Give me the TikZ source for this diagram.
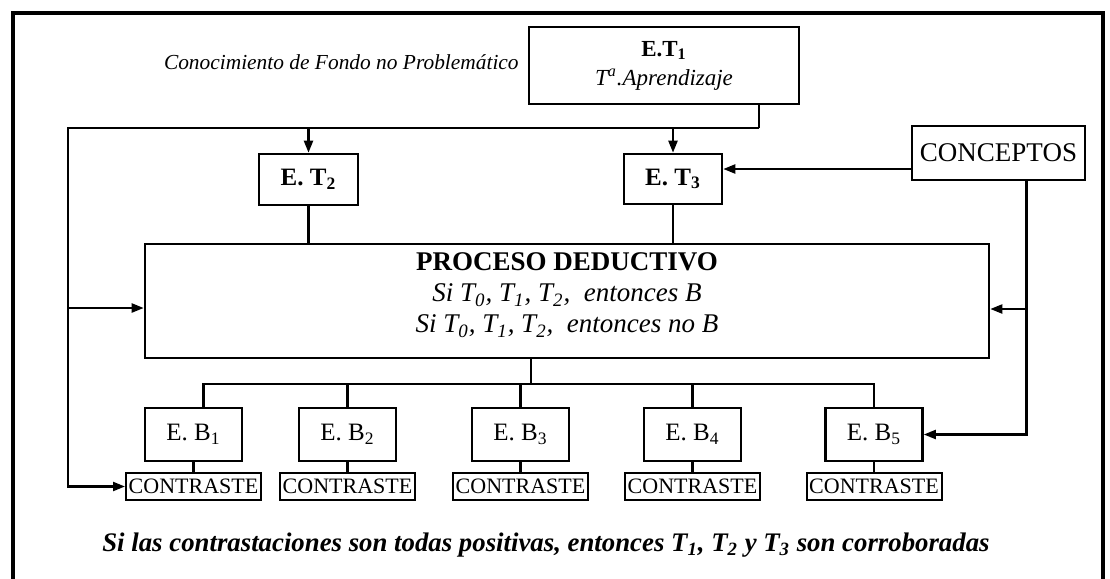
\documentclass[tikz,border=0pt]{standalone}
\usepackage{fontspec}
\setmainfont{Liberation Serif}
\usetikzlibrary{arrows.meta, positioning}

\newcommand{\fsSmall}{\fontsize{10.7}{12.5}\selectfont}
\newcommand{\fsMid}{\fontsize{12.5}{14}\selectfont}
\newcommand{\fsBig}{\fontsize{13.5}{15.5}\selectfont}

\begin{document}
\begin{tikzpicture}[x=0.5pt, y=-0.5pt,
    box/.style={draw, line width=1.3pt, inner sep=0pt, align=center},
    line/.style={line width=1.1pt},
    arr/.style={line, -{Triangle[length=6pt, width=4.5pt]}}]
  \useasboundingbox (0,0) rectangle (1110,579);
  % outer frame (open at the bottom)
  \draw[line width=1.7pt] (13,579) -- (13,13) -- (1103,13) -- (1103,579);

  % top row
  \node[box, minimum width=135pt, minimum height=38.5pt,
    font=\fontsize{11.5}{12.5}\selectfont] (et1) at (664,65.5)
    {\bfseries E.T\textsubscript{1}\\[2pt] \itshape T\textsuperscript{a}.Aprendizaje};
  \node[left=1pt of et1, yshift=1.75pt, font=\fsSmall\itshape] (fondo)
    {Conocimiento de Fondo no Problemático};
  \node[box, minimum width=49.5pt, minimum height=25.5pt, font=\fsMid\bfseries] (et2) at (308.5,179.5)
    {E. T\textsubscript{2}};
  \node[box, minimum width=49pt, minimum height=25pt, font=\fsMid\bfseries] (et3) at (673,179)
    {E. T\textsubscript{3}};
  \node[box, minimum width=86.5pt, minimum height=27pt, font=\fsBig] (conc) at (998.5,153)
    {CONCEPTOS};

  % deduction
  \node[box, minimum width=422pt, minimum height=57pt] (proc) at (567,301) {};
  \node[font=\fsBig, align=center] (proctxt) at (567,295)
    {\bfseries PROCESO DEDUCTIVO\\
     \itshape Si T\textsubscript{0}, T\textsubscript{1}, T\textsubscript{2},\ \ entonces B\\
     \itshape Si T\textsubscript{0}, T\textsubscript{1}, T\textsubscript{2},\ \ entonces no B};

  % consequences and tests
  \foreach \i/\x in {1/193.5, 2/347.5, 3/520.5, 4/692.5, 5/874} {
    \node[box, minimum width=48.5pt, minimum height=26.5pt, font=\fsMid] (b\i) at (\x,434.5)
      {E. B\textsubscript{\i}};
    \node[box, minimum width=67.5pt, minimum height=13.5pt, line width=1pt,
      font=\fontsize{11}{12}\selectfont] (c\i) at (\x,486.5) {CONTRASTE};
  }

  \node[font=\fontsize{13.4}{15}\selectfont\bfseries\itshape] (concl) at (546,545)
    {Si las contrastaciones son todas positivas, entonces T\textsubscript{1}, T\textsubscript{2} y T\textsubscript{3} son corroboradas};

  % background knowledge loop
  \coordinate (topL) at (68,128);
  \coordinate (topR) at (759,128);
  \draw[line] (topR |- et1.south) -- (topR);
  \draw[arr] (topR) -- (topL) |- (c1.west);
  \draw[arr] (et2.north |- topL) -- (et2.north);
  \draw[arr] (et3.north |- topL) -- (et3.north);
  \coordinate (pw) at ([yshift=-3.5pt]proc.west);
  \draw[arr] (pw -| topL) -- (pw);
  \draw[line] (et2.south) -- (et2.south |- proc.north);
  \draw[line] (et3.south) -- (et3.south |- proc.north);

  % concepts
  \coordinate (cw) at ([yshift=-8pt]conc.west);
  \draw[arr] (cw) -- (cw -| et3.east);
  \coordinate (cs) at ([xshift=14pt]conc.south);
  \draw[arr] (cs) |- (b5.east);
  \coordinate (pe) at ([yshift=-4pt]proc.east);
  \draw[arr] (pe -| cs) -- (pe);

  % bus to the consequences
  \coordinate (bus) at (0,384);
  \draw[line] ([xshift=-18pt]proc.south) -- ([xshift=-18pt]proc.south |- bus);
  \draw[line] ([xshift=5pt]b1.north) |- (bus -| b5.north) -- (b5.north);
  \foreach \i in {2,3,4} \draw[line] (b\i.north) -- (b\i.north |- bus);
  \foreach \i in {1,...,5} \draw[line] (b\i.south) -- (c\i.north);
\end{tikzpicture}
\end{document}
